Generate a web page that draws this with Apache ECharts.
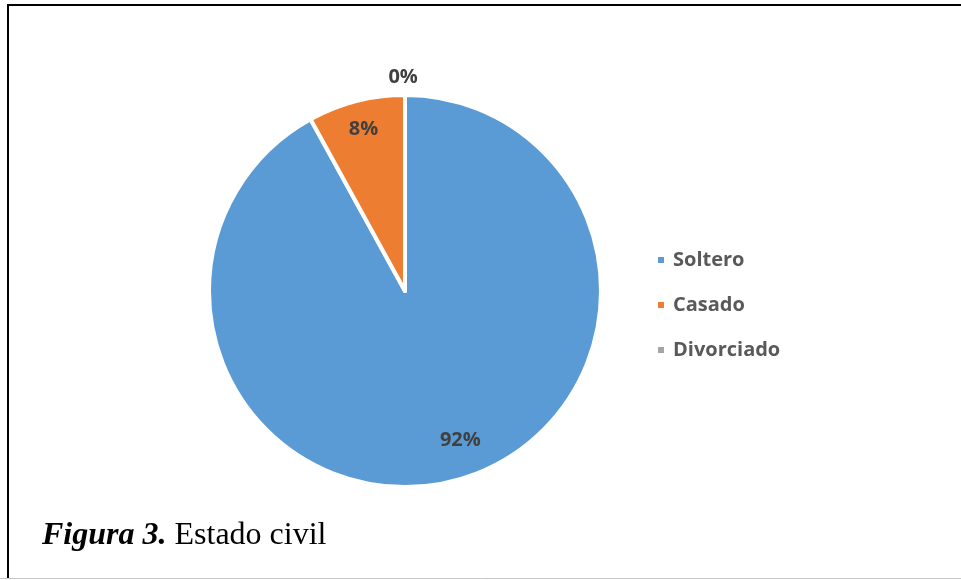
<!DOCTYPE html>
<html>
<head>
<meta charset="utf-8">
<script src="https://cdn.jsdelivr.net/npm/echarts@6/dist/echarts.min.js"></script>
<style>
  html, body { margin: 0; padding: 0; background: #ffffff; }
  #chart { width: 961px; height: 580px; }
</style>
</head>
<body>
<div id="chart"></div>
<script>
// Estado civil: share of respondents by marital status
const categories = ['Soltero', 'Casado', 'Divorciado'];
const values = [92, 8, 0];
const colors = ['#5B9BD5', '#ED7D31', '#A5A5A5'];

// Pie geometry and label placement (fraction of radius, angle shift in degrees)
const CX = 405, CY = 291, R = 196;
const labelRadius = [0.81, 0.85, 1.09];
const labelShift = [-6, 0, -0.5];

const total = values.reduce((a, b) => a + b, 0);

function labelPos(i) {
  let before = 0;
  for (let k = 0; k < i; k++) before += values[k];
  const mid = ((before + values[i] / 2) / total) * 360 + labelShift[i];
  const a = mid * Math.PI / 180;
  return {
    x: CX + R * labelRadius[i] * Math.sin(a),
    y: CY - R * labelRadius[i] * Math.cos(a)
  };
}

const chart = echarts.init(document.getElementById('chart'), null, { renderer: 'canvas' });

chart.setOption({
  animation: false,
  backgroundColor: '#ffffff',
  color: colors,
  legend: {
    orient: 'vertical',
    left: 651,
    top: 243,
    icon: 'rect',
    itemWidth: 8,
    itemHeight: 8,
    itemGap: 21,
    data: categories,
    selectedMode: false,
    textStyle: {
      fontFamily: 'Open Sans',
      fontWeight: 'bold',
      fontSize: 20,
      color: '#595959',
      lineHeight: 24,
      padding: [0, 0, 0, 3]
    }
  },
  series: [{
    type: 'pie',
    center: [CX, CY],
    radius: [0, R],
    startAngle: 90,
    clockwise: true,
    percentPrecision: 0,
    silent: true,
    itemStyle: { borderColor: '#ffffff', borderWidth: 4 },
    label: {
      show: true,
      position: 'inside',
      formatter: '{d}%',
      fontFamily: 'Open Sans',
      fontWeight: 'bold',
      fontSize: 20,
      color: '#404040'
    },
    labelLine: { show: false },
    labelLayout: function (p) {
      const pos = labelPos(p.dataIndex);
      return { x: pos.x, y: pos.y, align: 'center', verticalAlign: 'middle' };
    },
    data: categories.map((name, i) => ({ name: name, value: values[i] }))
  }],
  graphic: [
    // page frame
    { type: 'line', shape: { x1: 8, y1: 5, x2: 961, y2: 5 }, style: { stroke: '#000000', lineWidth: 2 } },
    { type: 'line', shape: { x1: 8, y1: 4, x2: 8, y2: 578 }, style: { stroke: '#000000', lineWidth: 2 } },
    { type: 'line', shape: { x1: 0, y1: 578.5, x2: 961, y2: 578.5 }, style: { stroke: '#c8c8c8', lineWidth: 1 } },
    // caption
    {
      type: 'text',
      left: 42,
      top: 520,
      style: {
        text: '{b|Figura 3. }{r|Estado civil}',
        rich: {
          b: { fontFamily: 'Liberation Serif', fontStyle: 'italic', fontWeight: 'bold', fontSize: 32, fill: '#000000' },
          r: { fontFamily: 'Liberation Serif', fontSize: 32, fill: '#000000' }
        }
      }
    }
  ]
});
</script>
</body>
</html>
